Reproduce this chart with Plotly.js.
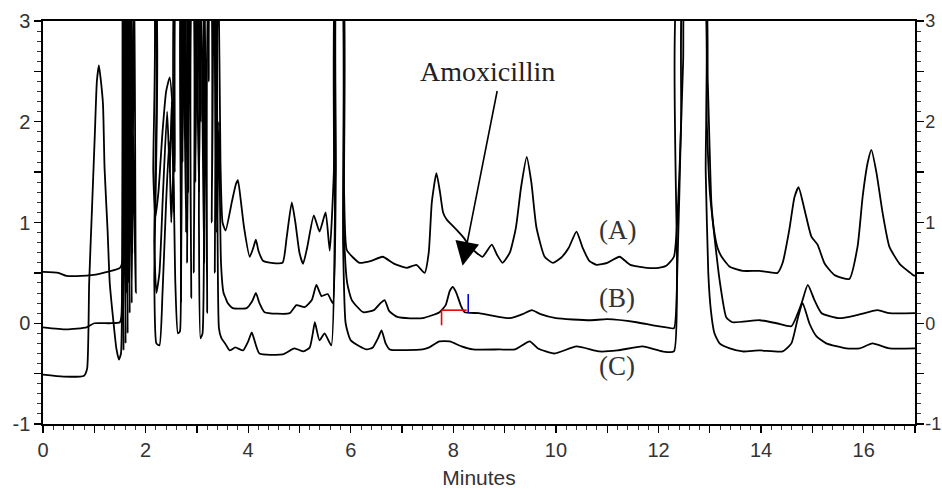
<!DOCTYPE html>
<html><head><meta charset="utf-8">
<script src="https://cdn.plot.ly/plotly-3.0.1.min.js"></script>
<style>html,body{margin:0;padding:0;background:#fff}#c{width:942px;height:489px}</style>
</head><body><div id="c"></div>
<script>
// Trace (A)
const tA = [0,0.3,0.46,0.75,1.1,1.5,1.55,1.57,1.59,1.61,1.63,1.65,1.67,1.69,1.71,1.73,1.86,2.12,2.15,2.19,2.25,2.33,2.40,2.47,2.53,2.57,2.61,2.68,2.72,2.76,2.80,2.83,2.86,2.93,2.97,3.01,3.05,3.08,3.11,3.18,3.23,3.27,3.34,3.38,3.42,3.46,3.50,3.56,3.68,3.76,3.80,3.86,3.92,4.03,4.10,4.15,4.20,4.29,4.45,4.67,4.75,4.85,4.92,5.00,5.07,5.15,5.28,5.39,5.51,5.59,5.67,5.72,5.83,5.87,5.92,6.05,6.17,6.40,6.62,6.85,7.09,7.28,7.44,7.52,7.58,7.67,7.74,7.80,7.87,8.06,8.20,8.32,8.45,8.57,8.75,8.85,8.96,9.10,9.22,9.32,9.43,9.52,9.62,9.78,9.94,10.10,10.25,10.40,10.52,10.65,10.79,11.0,11.24,11.45,11.77,12.0,12.15,12.30,12.40,12.48,12.55,12.88,12.96,13.03,13.08,13.15,13.23,13.39,13.64,13.97,14.32,14.42,14.55,14.65,14.73,14.85,14.98,15.10,15.24,15.43,15.72,15.88,15.98,16.08,16.15,16.25,16.37,16.50,16.70,16.96,17.0];
const yA = [0.51,0.50,0.47,0.47,0.49,0.55,0.62,3.5,2.0,3.5,1.5,3.5,1.2,3.5,1.9,3.5,3.5,3.5,1.5,1.05,1.3,1.9,2.3,2.44,2.1,1.5,3.5,3.5,1.6,3.5,1.9,1.3,3.5,3.5,1.4,3.5,2.2,2.0,3.5,3.5,2.4,3.5,3.5,2.6,3.5,1.6,1.0,0.92,1.2,1.38,1.42,1.2,0.95,0.66,0.75,0.83,0.72,0.62,0.60,0.60,0.85,1.20,1.0,0.70,0.59,0.75,1.07,0.91,1.10,0.72,1.5,3.5,3.5,1.3,0.73,0.65,0.60,0.62,0.66,0.59,0.55,0.58,0.50,0.70,1.20,1.49,1.30,1.10,1.03,0.93,0.85,0.76,0.70,0.66,0.78,0.68,0.60,0.70,0.95,1.35,1.65,1.40,0.95,0.66,0.60,0.65,0.75,0.91,0.75,0.62,0.58,0.60,0.66,0.58,0.55,0.55,0.57,0.66,1.4,2.6,3.5,3.5,2.4,1.2,0.93,0.75,0.66,0.56,0.52,0.52,0.50,0.60,0.93,1.25,1.35,1.12,0.86,0.78,0.59,0.48,0.44,0.76,1.26,1.60,1.72,1.49,1.09,0.76,0.59,0.48,0.47];

// Trace (B)
const tB = [0,0.46,0.85,1.0,1.3,1.50,1.53,1.56,1.58,1.60,1.62,1.64,1.66,1.68,1.70,1.72,1.74,1.76,1.84,2.14,2.17,2.21,2.27,2.34,2.42,2.47,2.51,2.55,2.58,2.65,2.69,2.73,2.79,2.83,2.90,2.94,2.98,3.04,3.08,3.14,3.18,3.25,3.29,3.33,3.39,3.43,3.47,3.52,3.56,3.60,3.70,3.97,4.08,4.15,4.22,4.32,4.81,4.94,5.10,5.24,5.33,5.43,5.55,5.65,5.71,5.74,5.82,5.86,5.93,6.02,6.24,6.45,6.58,6.66,6.75,6.92,7.40,7.73,7.85,7.93,7.99,8.06,8.15,8.22,8.50,8.71,9.10,9.35,9.53,9.70,10.0,10.66,11.0,11.57,11.89,12.15,12.30,12.37,12.44,12.52,12.86,12.94,13.00,13.09,13.19,13.32,13.44,13.97,14.30,14.59,14.70,14.79,14.91,15.04,15.18,15.53,15.86,16.27,16.50,17.0];
const yB = [-0.04,-0.06,-0.04,0.0,0.0,0.01,0.08,3.5,0.6,3.5,0.3,3.5,0.4,3.5,0.9,3.5,0.7,3.5,3.5,3.5,0.8,0.3,0.5,1.3,2.1,1.5,2.2,1.1,3.5,3.5,0.2,3.5,0.9,3.5,3.5,0.5,3.5,1.3,3.5,0.6,3.5,3.5,1.0,3.5,0.9,2.0,0.6,0.3,0.25,0.20,0.15,0.15,0.22,0.30,0.20,0.11,0.10,0.18,0.16,0.23,0.38,0.27,0.29,0.20,1.5,3.5,3.5,1.0,0.4,0.23,0.11,0.13,0.20,0.23,0.12,0.06,0.05,0.11,0.18,0.32,0.36,0.30,0.17,0.11,0.10,0.08,0.05,0.09,0.13,0.09,0.05,0.03,0.04,0.01,-0.02,-0.04,-0.05,0.6,2.0,3.5,3.5,2.0,1.3,0.86,0.43,0.06,0.01,0.03,0.0,-0.03,0.08,0.20,0.38,0.23,0.10,0.05,0.08,0.13,0.10,0.10];

// Trace (C)
const tC = [0,0.4,0.8,0.86,0.90,0.95,1.01,1.05,1.09,1.13,1.17,1.20,1.26,1.30,1.36,1.43,1.48,1.52,1.55,1.57,1.59,1.61,1.63,1.65,1.67,1.69,1.71,1.73,1.78,1.81,1.84,2.14,2.17,2.21,2.27,2.33,2.40,2.46,2.50,2.54,2.58,2.63,2.67,2.71,2.77,2.81,2.85,2.89,2.93,3.00,3.04,3.07,3.11,3.15,3.20,3.25,3.31,3.35,3.39,3.43,3.48,3.55,3.64,3.75,3.90,4.00,4.07,4.14,4.22,4.67,4.90,5.08,5.20,5.26,5.30,5.39,5.49,5.62,5.69,5.73,5.81,5.85,5.90,6.00,6.31,6.43,6.53,6.60,6.68,6.76,7.40,7.53,7.73,7.93,8.16,8.38,8.90,9.20,9.49,9.65,9.97,10.40,10.85,11.20,11.69,12.08,12.30,12.36,12.42,12.85,12.92,12.97,13.02,13.09,13.19,13.39,13.64,13.97,14.42,14.59,14.72,14.81,14.94,15.08,15.27,15.66,15.92,16.17,16.50,17.0];
const yC = [-0.51,-0.53,-0.52,-0.45,0.40,1.07,1.87,2.40,2.56,2.40,2.17,1.54,0.91,0.41,0.08,-0.25,-0.36,-0.30,3.5,-0.27,3.5,-0.2,3.5,-0.1,3.5,0.1,3.5,0.2,3.5,0.3,3.5,3.5,0.4,-0.20,-0.22,0.30,1.20,1.80,1.0,1.5,0.4,-0.10,-0.08,3.5,3.5,0.6,3.5,0.25,3.5,3.5,1.0,-0.15,-0.10,3.5,0.10,3.5,3.5,0.5,3.5,-0.05,-0.15,-0.20,-0.27,-0.24,-0.27,-0.18,-0.09,-0.20,-0.30,-0.31,-0.25,-0.28,-0.24,-0.10,0.01,-0.17,-0.10,-0.22,1.0,3.5,3.5,0.8,0.0,-0.17,-0.26,-0.24,-0.15,-0.07,-0.20,-0.26,-0.26,-0.24,-0.18,-0.18,-0.23,-0.26,-0.26,-0.26,-0.18,-0.25,-0.30,-0.23,-0.28,-0.27,-0.23,-0.28,-0.28,0.5,3.5,3.5,1.5,0.5,0.13,-0.10,-0.20,-0.25,-0.28,-0.27,-0.28,-0.20,0.06,0.20,0.0,-0.13,-0.20,-0.25,-0.25,-0.20,-0.25,-0.25];

// Labels and annotation values
const seriesLabels = ['(A)','(B)','(C)'];
const labelY = [0.93, 0.25, -0.42];
const labelX = 11.2;
const peakName = 'Amoxicillin';
const peakTip = [8.18, 0.57];
const peakTail = [8.86, 2.32];
const peakTextPos = [8.67, 2.5];
// integration markers on trace (B)
const intStart = 7.77, intEnd = 8.26, intLevel = 0.13;

const line = {color:'#000', width:1.8, shape:'spline', smoothing:0.5};
const traces = [
  {x:tA, y:yA, mode:'lines', line:line, hoverinfo:'skip'},
  {x:tB, y:yB, mode:'lines', line:line, hoverinfo:'skip'},
  {x:tC, y:yC, mode:'lines', line:line, hoverinfo:'skip'},
  {x:[], y:[], yaxis:'y2', mode:'lines', hoverinfo:'skip'}
];

const tickFont = {family:'Liberation Sans, Arial, sans-serif', size:20, color:'#333'};
const yTickVals = [-1,-0.5,0,0.5,1,1.5,2,2.5,3];
const yTickText = ['-1','','0','','1','','2','','3'];
const xTickVals = [0,1,2,3,4,5,6,7,8,9,10,11,12,13,14,15,16,17];
const xTickText = ['0','','2','','4','','6','','8','','10','','12','','14','','16',''];

const yax = {range:[-1,3], tickvals:yTickVals, ticktext:yTickText, ticks:'outside', ticklen:7, tickwidth:1.3, tickcolor:'#000',
  showline:true, linecolor:'#000', linewidth:1.6, showgrid:false, zeroline:false, tickfont:tickFont, fixedrange:true,
  minor:{dtick:0.1, ticks:'outside', ticklen:4, tickwidth:1, tickcolor:'#333', showgrid:false}};

const layout = {
  width:942, height:489,
  margin:{l:43, r:27, t:21, b:65},
  paper_bgcolor:'#fff', plot_bgcolor:'#fff',
  showlegend:false,
  xaxis:{range:[0,17], tickvals:xTickVals, ticktext:xTickText, ticks:'outside', ticklen:7, tickwidth:1.3, tickcolor:'#000',
    showline:true, mirror:true, linecolor:'#000', linewidth:1.6, showgrid:false, zeroline:false, tickfont:tickFont,
    minor:{dtick:0.2, ticks:'outside', ticklen:4, tickwidth:1, tickcolor:'#333', showgrid:false},
    title:{text:'Minutes', font:{family:'Liberation Sans, Arial, sans-serif', size:21, color:'#333'}, standoff:11}},
  yaxis:Object.assign({}, yax, {side:'left'}),
  yaxis2:Object.assign({}, yax, {side:'right', overlaying:'y', ticklabelstandoff:-2,
    tickfont:{family:'Liberation Sans, Arial, sans-serif', size:18, color:'#333'}}),
  annotations:[
    {x:peakTextPos[0], y:peakTextPos[1], xref:'x', yref:'y', text:peakName, showarrow:false,
     font:{family:'Liberation Serif, Times New Roman, serif', size:28, color:'#222'}},
    {x:peakTip[0], y:peakTip[1], ax:peakTail[0], ay:peakTail[1], xref:'x', yref:'y', axref:'x', ayref:'y',
     text:'', showarrow:true, arrowhead:2, arrowsize:3, arrowwidth:1.6, arrowcolor:'#000'}
  ].concat(seriesLabels.map((s,i)=>({x:labelX, y:labelY[i], xref:'x', yref:'y', text:s, showarrow:false,
     font:{family:'Liberation Serif, Times New Roman, serif', size:27, color:'#333'}}))),
  shapes:[
    {type:'line', xref:'x', yref:'y', x0:intStart, x1:intEnd, y0:intLevel, y1:intLevel, line:{color:'#e00', width:1.6}},
    {type:'line', xref:'x', yref:'y', x0:intStart, x1:intStart, y0:intLevel, y1:intLevel-0.15, line:{color:'#e00', width:1.6}},
    {type:'line', xref:'x', yref:'y', x0:intEnd+0.03, x1:intEnd+0.03, y0:intLevel-0.03, y1:intLevel+0.16, line:{color:'#00d', width:1.6}}
  ]
};
Plotly.newPlot('c', traces, layout, {staticPlot:true, displayModeBar:false});
</script></body></html>
